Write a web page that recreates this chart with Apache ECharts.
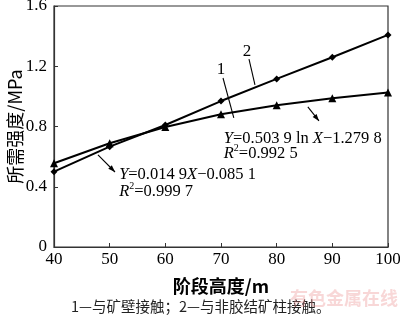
<!DOCTYPE html>
<html><head><meta charset="utf-8">
<script src="https://cdn.jsdelivr.net/npm/echarts@6/dist/echarts.min.js"></script>
<style>html,body{margin:0;padding:0;background:#fff}#c{width:400px;height:317px}</style>
</head><body><div id="c"></div>
<script>
const heights = [40, 50, 60, 70, 80, 90, 100];
const wallContact = [0.556, 0.689, 0.797, 0.881, 0.941, 0.987, 1.025];   // curve 1
const pillarContact = [0.50, 0.666, 0.81, 0.969, 1.116, 1.26, 1.408];    // curve 2
const xTicks = [40, 50, 60, 70, 80, 90, 100];
const yTicks = [0, 0.4, 0.8, 1.2, 1.6];
const xName = '阶段高度/m';
const yName = '所需强度/MPa';
const caption = '1—与矿壁接触；2—与非胶结矿柱接触。';
const watermark = '有色金属在线';

const serif = '"Liberation Serif","Times New Roman","Noto Sans CJK SC",serif';
const cjk = '"Noto Sans CJK SC","Liberation Serif",serif';
const chart = echarts.init(document.getElementById('c'), null, {renderer: 'canvas'});
const pair = (xs, ys) => xs.map((x, i) => [x, ys[i]]);
chart.setOption({
  animation: false,
  grid: {left: 54, right: 12, top: 6, bottom: 70, containLabel: false, outerBoundsMode: 'none',
    show: true, borderColor: '#333', borderWidth: 1.2},
  xAxis: {
    type: 'value', min: xTicks[0], max: xTicks[xTicks.length - 1], interval: 10,
    axisLine: {lineStyle: {color: '#333', width: 1.2}},
    axisTick: {inside: true, length: 4, lineStyle: {color: '#333'}},
    splitLine: {show: false},
    axisLabel: {color: '#000', fontFamily: serif, fontSize: 17, margin: 4},
    name: xName, nameLocation: 'middle', nameGap: 30, nameMoveOverlap: false,
    nameTextStyle: {color: '#000', fontFamily: cjk, fontSize: 18, fontWeight: 'bold'}
  },
  yAxis: {
    type: 'value', min: yTicks[0], max: yTicks[yTicks.length - 1], interval: 0.4,
    axisLine: {lineStyle: {color: '#333', width: 1.2}},
    axisTick: {inside: true, length: 4, lineStyle: {color: '#333'}},
    splitLine: {show: false},
    axisLabel: {color: '#000', fontFamily: serif, fontSize: 17, margin: 7,
      formatter: v => v === 0 ? '0' : v.toFixed(1)},
    name: yName, nameLocation: 'middle', nameGap: 30, nameRotate: 90, nameMoveOverlap: false,
    nameTextStyle: {color: '#000', fontFamily: cjk, fontSize: 18}
  },
  series: [
    {type: 'line', data: pair(heights, wallContact), symbol: 'triangle', symbolSize: 8,
     lineStyle: {color: '#000', width: 2}, itemStyle: {color: '#000'}},
    {type: 'line', data: pair(heights, pillarContact), symbol: 'diamond', symbolSize: 7,
     lineStyle: {color: '#000', width: 2}, itemStyle: {color: '#000'}}
  ]
});

const P = (x, y) => chart.convertToPixel({gridIndex: 0}, [x, y]);
function leader(a, b, arrow) {
  const p = P(a[0], a[1]), q = P(b[0], b[1]);
  const els = [{type: 'line', shape: {x1: p[0], y1: p[1], x2: q[0], y2: q[1]},
    style: {stroke: '#000', lineWidth: 1.1}}];
  if (arrow) {
    const ang = Math.atan2(q[1] - p[1], q[0] - p[0]);
    const L = 7, W = 2.5;
    const bx = q[0] - L * Math.cos(ang), by = q[1] - L * Math.sin(ang);
    els.push({type: 'polygon', shape: {points: [
      [q[0], q[1]],
      [bx + W * Math.sin(ang), by - W * Math.cos(ang)],
      [bx - W * Math.sin(ang), by + W * Math.cos(ang)]]},
      style: {fill: '#000'}});
  }
  return els;
}
const rich = {
  i: {fontStyle: 'italic', fontFamily: serif, fontSize: 16.5, fill: '#000'},
  n: {fontFamily: serif, fontSize: 16.5, fill: '#000'},
  s: {fontFamily: serif, fontSize: 10, fill: '#000', padding: [0, 0, 9, 0]}
};
function txt(pos, content) {
  const p = P(pos[0], pos[1]);
  return {type: 'text', x: p[0], y: p[1], style: {
    text: content, fontFamily: serif, fontSize: 16.5, fill: '#000',
    verticalAlign: 'middle', align: 'left', rich: rich}};
}
const g = [];
// label 1
g.push(...leader([70.36, 1.122], [72.3, 0.857], false));
const l1 = P(70.0, 1.175);
g.push({type: 'text', x: l1[0], y: l1[1], style: {text: '1', fontFamily: serif, fontSize: 17, fill: '#000', align: 'center', verticalAlign: 'middle'}});
// label 2
g.push(...leader([75.03, 1.248], [76.1, 1.076], false));
const l2 = P(74.67, 1.295);
g.push({type: 'text', x: l2[0], y: l2[1], style: {text: '2', fontFamily: serif, fontSize: 17, fill: '#000', align: 'center', verticalAlign: 'middle'}});
// equation for curve 1
g.push(...leader([85.6, 0.930], [87.6, 0.837], true));
g.push(txt([70.5, 0.717], '{i|Y}{n|=0.503 9 ln }{i|X}{n|−1.279 8}'));
g.push(txt([70.5, 0.622], '{i|R}{s|2}{n|=0.992 5}'));
// equation for curve 2
g.push(...leader([47.9, 0.611], [50.96, 0.498], true));
g.push(txt([51.7, 0.478], '{i|Y}{n|=0.014 9}{i|X}{n|−0.085 1}'));
g.push(txt([51.7, 0.37], '{i|R}{s|2}{n|=0.999 7}'));
// caption & watermark
g.push({type: 'text', x: 71, y: 306, style: {text: caption, fontFamily: cjk, fontSize: 14.5, fill: '#222', verticalAlign: 'middle'}});
g.push({type: 'text', x: 290, y: 298, style: {text: watermark, fontFamily: cjk, fontSize: 18, fontWeight: 'bold', fill: 'rgba(235,140,140,0.35)', verticalAlign: 'middle'}});
chart.setOption({graphic: g});
</script></body></html>
